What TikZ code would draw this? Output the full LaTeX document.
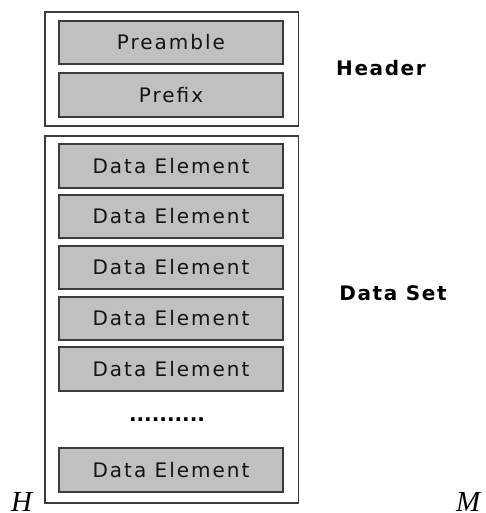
\documentclass[tikz,border=0pt]{standalone}
\usepackage{fontspec}
\setmainfont{DejaVu Sans}
\newfontfamily\labelfont[LetterSpace=10]{DejaVu Sans}
\newfontfamily\boldlabel[LetterSpace=8]{DejaVu Sans Bold}
\newfontfamily\dotfont{DejaVu Sans Bold}
\newfontfamily\serifit{Liberation Serif Italic}
\definecolor{boxgray}{HTML}{C0C0C0}
\definecolor{edge}{HTML}{3C3C3C}
\tikzset{
  outerbox/.style={draw=edge, line width=1.3pt, fill=white},
  field/.style={draw=edge, line width=1.6pt, fill=boxgray, minimum width=224pt, minimum height=43.5pt,
    inner sep=0pt, text height=14.6pt, text depth=0pt, font=\fontsize{20}{22}\selectfont\labelfont, text=black!92},
  sidelabel/.style={inner sep=0pt, text height=14.6pt, text depth=0pt, font=\fontsize{20}{22}\selectfont\boldlabel},
  cornerlabel/.style={inner sep=0pt, anchor=base west, text depth=0pt, font=\fontsize{29}{31}\selectfont\serifit}
}
\begin{document}
\begin{tikzpicture}[x=1pt,y=-1pt]
\useasboundingbox (0,0) rectangle (485,513);
% outer boxes
\node[outerbox, minimum width=253.5pt, minimum height=114pt, inner sep=0pt] (header) at (171.75,69) {};
\node[outerbox, minimum width=253.5pt, minimum height=367pt, inner sep=0pt] (dataset) at (171.75,319.5) {};
% header fields
\node[field] (preamble) at (171,42.5) {Preamble};
\node[field] (prefix) at (171,95) {Prefix};
% data elements
\node[field] (de1) at (171,166) {Data Element};
\node[field] (de2) at (171,216.5) {Data Element};
\node[field] (de3) at (171,267.5) {Data Element};
\node[field] (de4) at (171,318.5) {Data Element};
\node[field] (de5) at (171,369) {Data Element};
\node[inner sep=0pt, font=\fontsize{20}{22}\selectfont\dotfont] (dots) at (167,420) {..........};
\node[field] (de6) at (171,470) {Data Element};
% side labels
\node[sidelabel] (headerlbl) at (381,68.5) {Header};
\node[sidelabel] (datasetlbl) at (393,293) {Data Set};
% corner letters
\node[cornerlabel] (hletter) at (11,511) {H};
\node[cornerlabel] (mletter) at (456,511) {M};
\end{tikzpicture}
\end{document}
